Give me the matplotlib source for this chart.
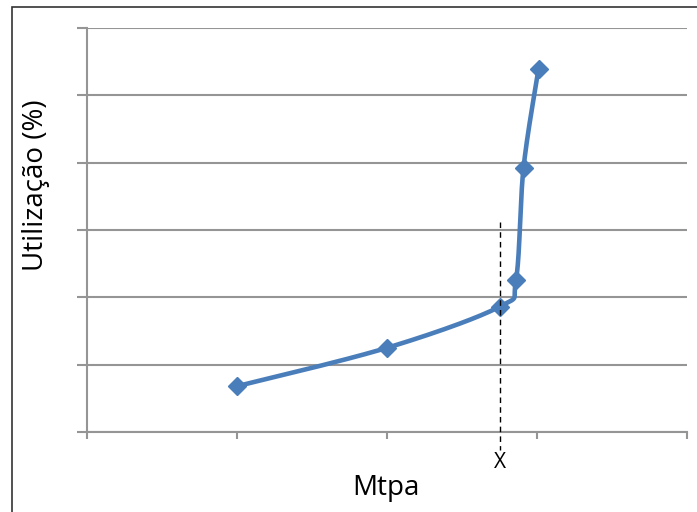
import numpy as np
import matplotlib
matplotlib.use("Agg")
import matplotlib.pyplot as plt
from matplotlib.patches import Rectangle

# values (x in tick units, y in gridline units)
mtpa = [1.0, 2.0, 2.75, 2.86, 2.91, 3.01]
utilizacao = [0.68, 1.25, 1.86, 2.26, 3.92, 5.39]
x_mark = 2.75
x_ticks = [0, 1, 2, 3, 4]
y_ticks = [0, 1, 2, 3, 4, 5, 6]

plt.rcParams['font.family'] = ['Open Sans', 'DejaVu Sans']

blue = '#4A7EBB'
grey = '#959595'


def excel_smooth(xs, ys, n=40):
    # Bezier segments with Catmull-Rom style control points (Excel "smoothed line")
    p = np.column_stack([xs, ys])
    pts = np.vstack([p[0], p, p[-1]])
    out = []
    t = np.linspace(0, 1, n)[:, None]
    for i in range(1, len(pts) - 2):
        p0, p1, p2, p3 = pts[i - 1], pts[i], pts[i + 1], pts[i + 2]
        c1 = p1 + (p2 - p0) / 6
        c2 = p2 - (p3 - p1) / 6
        seg = ((1 - t) ** 3) * p1 + 3 * ((1 - t) ** 2) * t * c1 + 3 * (1 - t) * t ** 2 * c2 + t ** 3 * p2
        out.append(seg)
    out = np.vstack(out)
    return out[:, 0], out[:, 1]


fig = plt.figure(figsize=(6.97, 5.12), dpi=100)
ax = fig.add_axes([87 / 697, 80 / 512, 600 / 697, 404 / 512])

ax.set_xlim(0, 4)
ax.set_ylim(0, 6)
ax.set_xticks(x_ticks)
ax.set_yticks(y_ticks)
ax.set_xticklabels([])
ax.set_yticklabels([])
ax.tick_params(axis='y', direction='out', length=7.5, width=1.5, color=grey)
ax.tick_params(axis='x', direction='out', length=5, width=1.5, color=grey)
ax.yaxis.grid(True, color=grey, linewidth=1.5)
ax.set_axisbelow(True)
for side in ['top', 'right']:
    ax.spines[side].set_visible(False)
for side in ['left', 'bottom']:
    ax.spines[side].set_color(grey)
    ax.spines[side].set_linewidth(1.5)

sx, sy = excel_smooth(mtpa, utilizacao)
ax.plot(sx, sy, color=blue, linewidth=3.3, solid_capstyle='round', zorder=3)
ax.plot(mtpa, utilizacao, linestyle='none', marker='D', markersize=9,
        color=blue, zorder=4)

ax.plot([x_mark, x_mark], [3.12, -0.27], color='black', linestyle=(0, (4, 3)),
        linewidth=1, clip_on=False, zorder=5)
ax.text(x_mark, -0.45, 'X', ha='center', va='center', fontsize=15,
        clip_on=False)

fig.text(36 / 697, 1 - 185 / 512, 'Utilização (%)', rotation=90,
         ha='center', va='center', fontsize=20)
fig.text(386 / 697, 1 - 488 / 512, 'Mtpa', ha='center', va='center',
         fontsize=20)

fig.add_artist(Rectangle((12 / 697, -0.1), 1.0, 1 - 7 / 512 + 0.1,
                         transform=fig.transFigure, fill=False,
                         edgecolor='#333333', linewidth=1.2))

fig.savefig('out.png', dpi=100)
